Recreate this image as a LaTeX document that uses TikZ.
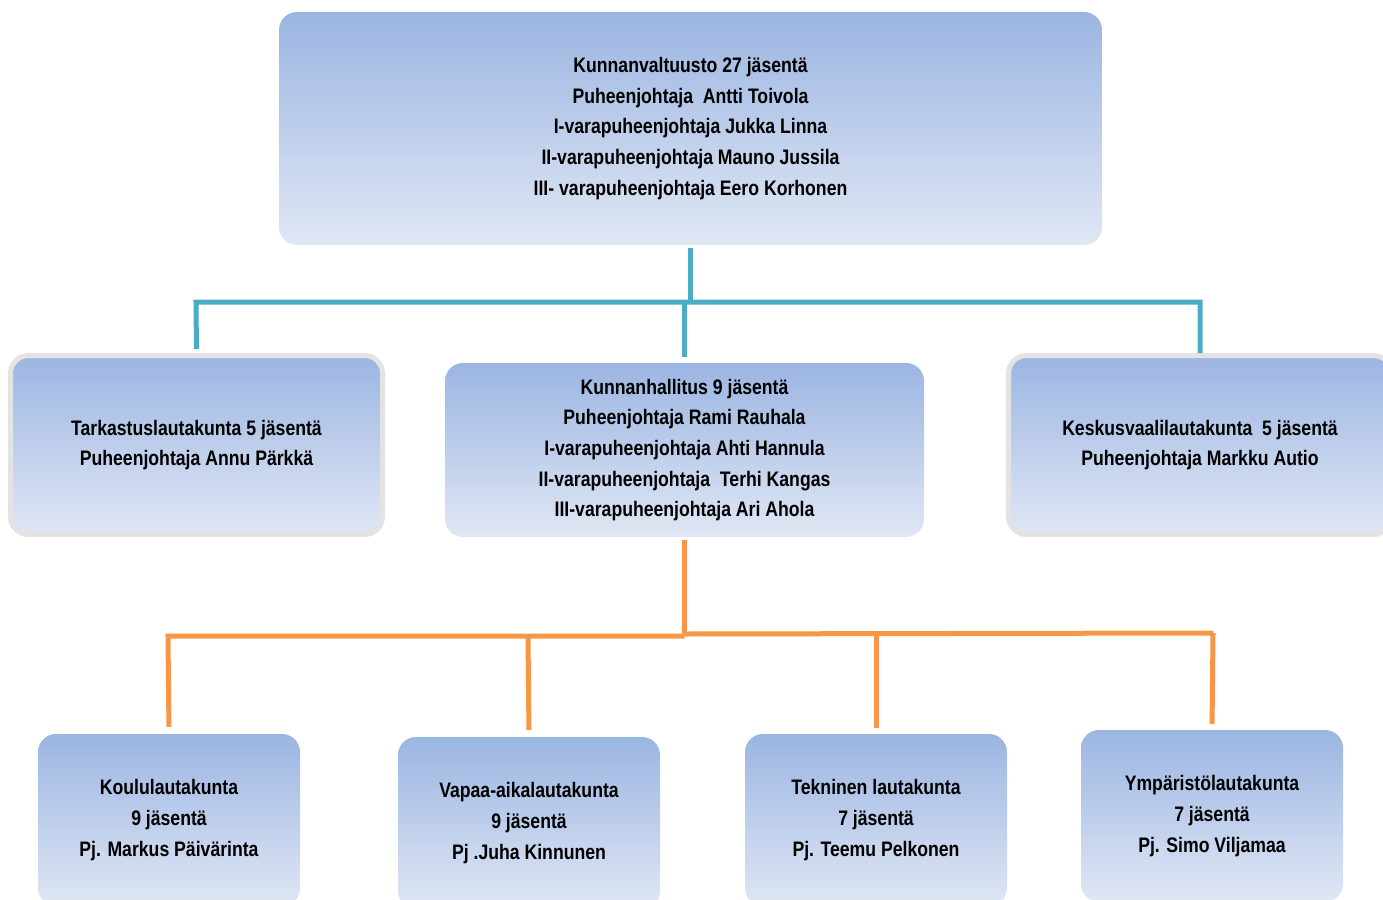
\documentclass[tikz,border=0pt]{standalone}
\usepackage{fontspec}
\setmainfont[FakeStretch=0.84]{Liberation Sans}
\definecolor{btop}{HTML}{9BB5E2}
\definecolor{bbot}{HTML}{E0E7F4}
\definecolor{cblue}{HTML}{4BACC6}
\definecolor{corange}{HTML}{F79646}
\definecolor{gborder}{HTML}{E3E3E3}
\tikzset{
  box/.style={rounded corners=18pt, top color=btop, bottom color=bbot, draw=none,
    align=center, inner sep=0pt, font=\bfseries\fontsize{21}{30.7}\selectfont},
  gbox/.style={box, draw=gborder, line width=5pt},
  bline/.style={draw=cblue, line width=5pt},
  oline/.style={draw=corange, line width=5pt},
}
\begin{document}
\begin{tikzpicture}[x=1pt,y=-1pt]
\useasboundingbox (0,0) rectangle (1383,899);
\clip (0,0) rectangle (1383,899);
% junction coordinates
\coordinate (bj) at (690.5,302);
\coordinate (bl) at (196,302);
\coordinate (br) at (1200,302);
\coordinate (oj) at (684.5,634);
\coordinate (ol) at (168,636);
\coordinate (or) at (1213,633);
\coordinate (o2) at (528,636);
\coordinate (o3) at (876,633);
% nodes
\node[box, minimum width=823pt, minimum height=233pt] (top) at (690.5,128.5)
  {Kunnanvaltuusto 27 jäsentä\\ Puheenjohtaja\ \ Antti Toivola\\ I-varapuheenjohtaja Jukka Linna\\ II-varapuheenjohtaja Mauno Jussila\\ III- varapuheenjohtaja Eero Korhonen};
\node[gbox, minimum width=372pt, minimum height=179pt] (tark) at (196.5,445)
  {Tarkastuslautakunta 5 jäsentä\\ Puheenjohtaja Annu Pärkkä};
\node[box, minimum width=479pt, minimum height=174pt] (mid) at (684.5,450)
  {Kunnanhallitus 9 jäsentä\\ Puheenjohtaja Rami Rauhala\\ I-varapuheenjohtaja Ahti Hannula\\ II-varapuheenjohtaja\ \ Terhi Kangas\\ III-varapuheenjohtaja Ari Ahola};
\node[gbox, minimum width=383pt, minimum height=179pt] (kesk) at (1200,445)
  {Keskusvaalilautakunta\ \ 5 jäsentä\\ Puheenjohtaja Markku Autio};
\node[box, minimum width=262pt, minimum height=172pt] (k1) at (169,820)
  {Koululautakunta\\ 9 jäsentä\\ Pj. Markus Päivärinta};
\node[box, minimum width=262pt, minimum height=172pt] (k2) at (529,823)
  {Vapaa-aikalautakunta\\ 9 jäsentä\\ Pj .Juha Kinnunen};
\node[box, minimum width=262pt, minimum height=172pt] (k3) at (876,820)
  {Tekninen lautakunta\\ 7 jäsentä\\ Pj. Teemu Pelkonen};
\node[box, minimum width=262pt, minimum height=172pt] (k4) at (1212,816)
  {Ympäristölautakunta\\ 7 jäsentä\\ Pj. Simo Viljamaa};
% blue connectors
\draw[bline, shorten <=3pt] (top.south) -- (bj);
\draw[bline, shorten <=4pt] (tark.north) -- (bl) -- (bj) -- (br) -- (kesk.north);
\draw[bline, shorten <=6pt] (mid.north) -- (mid.north |- bj);
% orange connectors
\draw[oline, shorten <=3pt] (mid.south) -- (oj);
\draw[oline, shorten <=7pt] (k1.north) -- (ol) -- (oj |- ol);
\draw[oline] (oj) -- (or);
\draw[oline, shorten >=6pt] (or) -- (k4.north);
\draw[oline, shorten >=7pt] (o2) -- (k2.north);
\draw[oline, shorten >=6pt] (o3) -- (k3.north);
\end{tikzpicture}
\end{document}
